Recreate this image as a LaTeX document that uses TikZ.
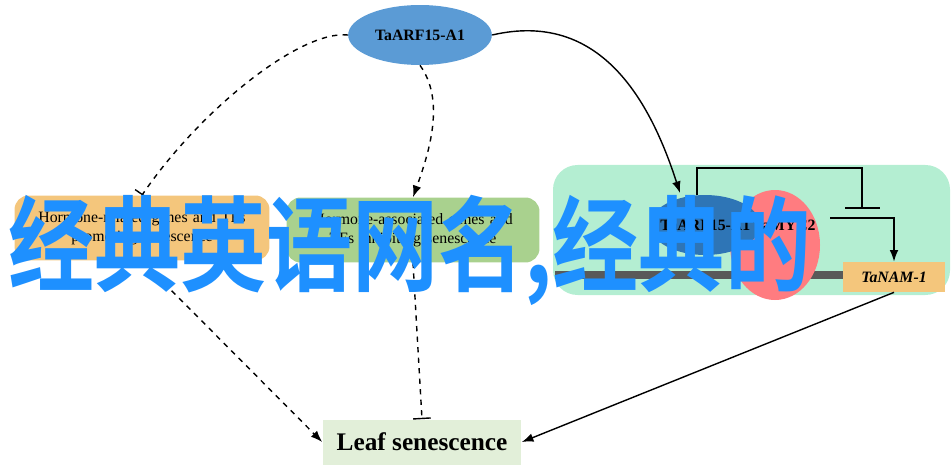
\documentclass[tikz,border=0pt]{standalone}
\usepackage{fontspec}
\setmainfont{Liberation Serif}
\newfontfamily\cjk{Noto Sans CJK SC}[BoldFont={* Bold}]
\usetikzlibrary{positioning, arrows.meta, shapes.geometric}
\definecolor{arfblue}{HTML}{5B9BD5}
\definecolor{arfdark}{HTML}{2E75B6}
\definecolor{myc}{HTML}{FF7C80}
\definecolor{promo}{HTML}{F4C67C}
\definecolor{inhib}{HTML}{A9D18E}
\definecolor{panel}{HTML}{B4EED2}
\definecolor{leafbg}{HTML}{E2EFD9}
\definecolor{wmblue}{HTML}{1E90FF}
\tikzset{
  genebox/.style={rounded corners=8pt, minimum height=1.3cm, align=center, font=\small, text width=4.8cm},
  inhibit/.style={-{Bar[width=10pt]}, thick},
  promote/.style={-Latex, thick},
}
\begin{document}
\begin{tikzpicture}[x=0.02cm, y=-0.02cm]
  \useasboundingbox (0,0) rectangle (952,476);
  %% panel and boxes
  \fill[panel, rounded corners=14pt] (553,165) rectangle (950,295);
  \node[genebox, fill=promo, minimum width=5.1cm] (pro) at (142,228)
    {Hormone-related genes and TFs\\promoting senescence};
  \node[genebox, fill=inhib, minimum width=5.06cm] (inh) at (413,230)
    {Hormone-associated genes and\\TFs inhibiting senescence};
  %% complex
  \draw[line width=5pt, black!65] (555,275) -- (845,275);
  \fill[myc] (775,245) ellipse [x radius=45, y radius=55];
  \node[ellipse, fill=arfdark, minimum width=2.2cm, minimum height=1.2cm, inner sep=0pt] (darf) at (705,225) {};
  \node[font=\bfseries\small] (cplx) at (738,225) {TaARF15-A1\,TaMYC2};
  \node[fill=promo, minimum width=2.04cm, minimum height=0.6cm, font=\itshape\small\bfseries] (nam) at (894,277) {TaNAM-1};
  %% top ellipse
  \node[ellipse, fill=arfblue, minimum width=2.2cm, minimum height=1.2cm, font=\bfseries\small] (arf) at (420,35) {TaARF15-A1};
  \node[fill=leafbg, minimum width=3.98cm, minimum height=0.9cm, font=\bfseries\Large] (leaf) at (422,442) {Leaf senescence};
  %% connectors
  \coordinate (fb) at (697,195);
  \coordinate (fbend) at (862,208);
  \draw[thick] (fb) |- (862,168) -- (fbend);
  \draw[thick] (845,208) -- (880,208);
  \draw[promote] (830,218) -| (nam.north);
  \draw[dashed, inhibit] (arf.west) .. controls (300,30) and (200,110) .. (pro.north);
  \draw[dashed, promote] (arf.south) .. controls (445,100) and (430,150) .. (inh.north);
  \draw[promote] (arf.east) .. controls (600,10) and (650,100) .. (680,193);
  \draw[dashed, promote] (pro.south) -- (leaf.west);
  \draw[dashed, inhibit] (inh.south) -- (leaf.north);
  \draw[promote] (nam.south) -- (leaf.east);
  %% overlay text
  \node[text=wmblue, font=\cjk\bfseries\fontsize{49}{49}\selectfont, inner sep=0pt, anchor=west, yscale=1.2] (wm) at (8,250) {经典英语网名,经典的};
\end{tikzpicture}
\end{document}
